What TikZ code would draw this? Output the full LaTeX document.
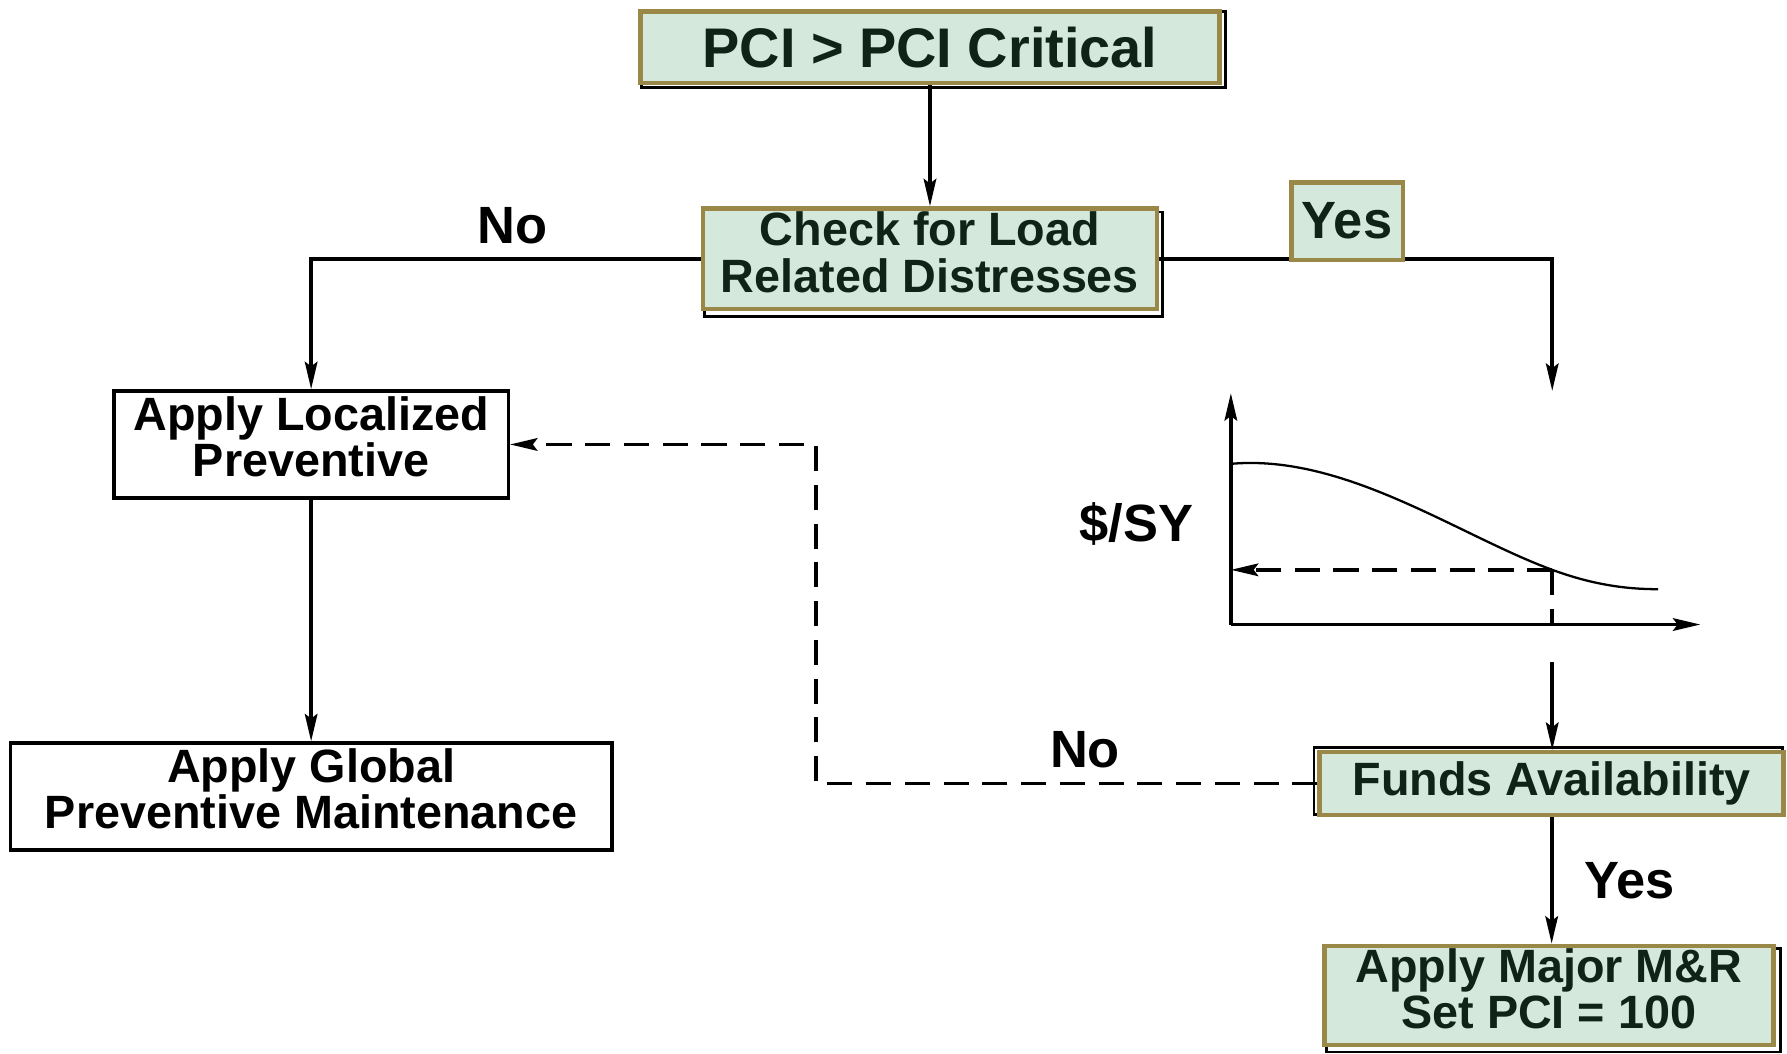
\documentclass[tikz,border=0pt]{standalone}
\usepackage{fontspec}
\setmainfont{Liberation Sans}
\usetikzlibrary{arrows.meta,backgrounds}
\definecolor{boxfill}{HTML}{D4E8DC}
\definecolor{boxedge}{HTML}{9A8848}
\definecolor{boxtext}{HTML}{0F2317}
\tikzset{
  boxfont/.style={font=\fontsize{20.5}{20.5}\selectfont\bfseries},
  greenbox/.style={draw=boxedge, fill=boxfill, line width=2pt, text=boxtext,
    boxfont, align=center, inner sep=0pt},
  plainbox/.style={draw=black, fill=white, line width=1.5pt,
    boxfont, align=center, inner sep=0pt},
  tip/.style={-{Stealth[length=12pt,width=5.5pt,inset=2pt]}},
  link/.style={line width=1.6pt},
  flow/.style={link, tip},
  dashlink/.style={line width=1.6pt, dash pattern=on 11pt off 6pt},
  lbl/.style={font=\fontsize{23}{23}\selectfont\bfseries, inner sep=0pt},
  shadowline/.style={draw=black, line width=1.2pt},
  curveline/.style={line width=1pt},
}
\begin{document}
\begin{tikzpicture}[x=0.5pt,y=-0.5pt]
\useasboundingbox (0,0) rectangle (1568,924);

% decision and action boxes
\node[greenbox, minimum width=254pt, minimum height=31.5pt,
      font=\fontsize{24.5}{24.5}\selectfont\bfseries] (pci) at (816,41.5) {PCI > PCI Critical};
\node[greenbox, minimum width=199pt, minimum height=44pt] (check) at (816,227)
      {Check for Load\\Related Distresses\rule[-6pt]{0pt}{6pt}};
\node[greenbox, minimum width=49pt, minimum height=34pt,
      font=\fontsize{23}{23}\selectfont\bfseries] (yes) at (1182,194) {Yes};
\node[plainbox, minimum width=173pt, minimum height=47pt] (loc) at (273,390)
      {Apply Localized\\Preventive\rule[-7pt]{0pt}{7pt}};
\node[plainbox, minimum width=264pt, minimum height=47pt] (glob) at (273,699)
      {Apply Global\\Preventive Maintenance\rule[-7pt]{0pt}{7pt}};
\node[greenbox, minimum width=203.5pt, minimum height=27.5pt] (funds) at (1361.5,687.5)
      {Funds Availability};
\node[greenbox, minimum width=197pt, minimum height=43.5pt] (major) at (1359,873.5)
      {Apply Major M\&R\\Set PCI = 100\rule[-6pt]{0pt}{6pt}};

% offset outlines behind the shaded boxes
\begin{scope}[on background layer]
  \draw[shadowline] ([shift={(3,2)}]pci.south west) rectangle ([shift={(3,2)}]pci.north east);
  \draw[shadowline] ([shift={(3,5)}]check.south west) rectangle ([shift={(3,5)}]check.north east);
  \draw[shadowline] ([shift={(-3,-2)}]funds.south west) rectangle ([shift={(-3,-2)}]funds.north east);
  \draw[shadowline] ([shift={(4,4)}]major.south west) rectangle ([shift={(4,4)}]major.north east);
\end{scope}

% labels
\node[lbl] (noA) at (450,198) {No};
\node[lbl] (noB) at (952,658) {No};
\node[lbl] (yesB) at (1430,773) {Yes};
\node[lbl] (cost) at (997,460) {\$/SY};

% main flow
\draw[flow] (pci.south) -- (check.north);
\coordinate (lcorner) at (273,227);
\draw[flow] (check.west) -- (lcorner) -- (loc.north);
\draw[flow] (loc.south) -- (glob.north);
\coordinate (rcorner) at (1362,227);
\coordinate (yesend) at (1362,343);
\draw[link] (check.east) -- (check.east -| yes.south west);
\draw[flow] (check.east -| yes.south east) -- (rcorner) -- (yesend);

% cost curve
\coordinate (orig) at (1080,548);
\coordinate (ytop) at (1080,345);
\coordinate (xend) at (1492,548);
\coordinate (hit) at (1362,500);
\draw[link, tip] (orig) -- (ytop);
\draw[link, tip] (orig) -- (xend);
\draw[curveline] (1080,407) .. controls (1180,398) and (1280,470) .. (hit)
                 .. controls (1400,514) and (1430,517) .. (1455,517);
\draw[dashlink, tip] (hit) -- (hit -| orig);
\draw[dashlink] (hit) -- (hit |- orig);

% funds check
\coordinate (gout) at (1362,581);
\draw[flow] (gout) -- (gout |- funds.north);
\draw[flow] (funds.south) -- (funds.south |- major.north);
\coordinate (dcornerA) at (716,687.5);
\coordinate (dcornerB) at (716,390);
\draw[dashlink, tip] (funds.west) -- (dcornerA) -- (dcornerB) -- (loc.east);
\end{tikzpicture}
\end{document}
